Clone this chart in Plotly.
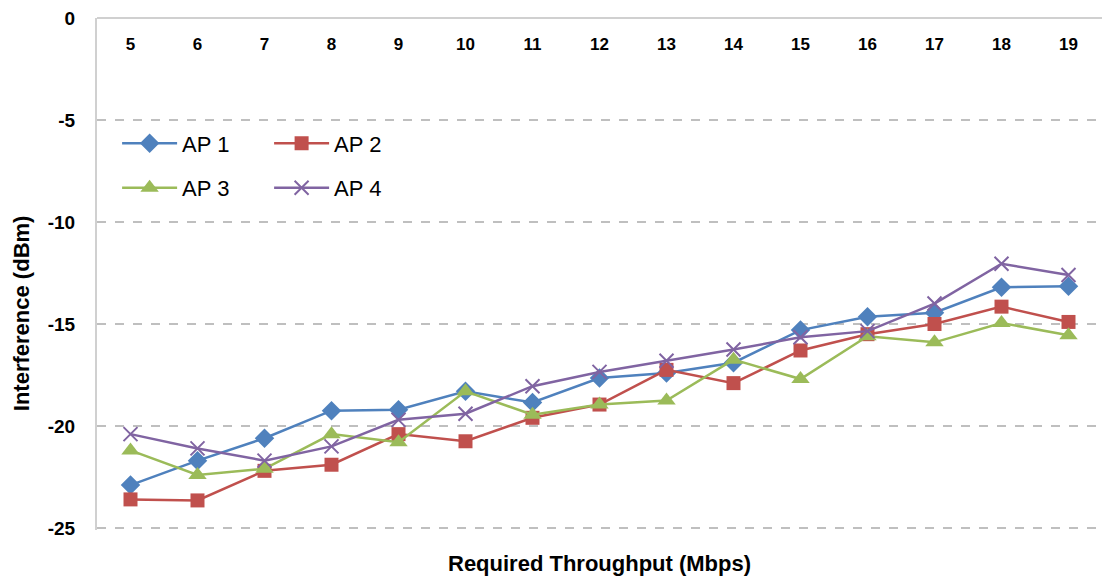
import plotly.graph_objects as go

categories = ["5", "6", "7", "8", "9", "10", "11", "12", "13", "14", "15", "16", "17", "18", "19"]
ap1 = [-22.9, -21.7, -20.6, -19.25, -19.2, -18.3, -18.85, -17.65, -17.4, -16.9, -15.3, -14.65, -14.45, -13.2, -13.15]
ap2 = [-23.6, -23.65, -22.2, -21.9, -20.4, -20.75, -19.6, -18.95, -17.25, -17.9, -16.3, -15.5, -15.0, -14.15, -14.9]
ap3 = [-21.2, -22.4, -22.1, -20.4, -20.8, -18.3, -19.45, -18.95, -18.75, -16.75, -17.7, -15.6, -15.9, -14.95, -15.55]
ap4 = [-20.4, -21.1, -21.7, -21.0, -19.7, -19.4, -18.05, -17.35, -16.8, -16.25, -15.65, -15.35, -14.0, -12.05, -12.6]
y_ticks = [-25, -20, -15, -10, -5, 0]

FONT = "Liberation Sans, Arial, sans-serif"

series = [
    ("AP 1", ap1, "#4F81BD", "diamond", 15, "legend"),
    ("AP 2", ap2, "#C0504D", "square", 14, "legend"),
    ("AP 3", ap3, "#9BBB59", "triangle-up", 16, "legend2"),
    ("AP 4", ap4, "#8064A2", "x-thin", 14, "legend2"),
]

fig = go.Figure()
for name, vals, color, sym, size, leg in series:
    marker = dict(symbol=sym, size=size, color=color)
    if sym == "x-thin":
        marker["line"] = dict(color=color, width=2)
    fig.add_trace(go.Scatter(
        x=categories, y=vals, name=name, mode="lines+markers",
        line=dict(color=color, width=2.5), marker=marker, legend=leg,
    ))

fig.update_layout(
    width=1120, height=578,
    margin=dict(l=97, r=18, t=18, b=48),
    paper_bgcolor="white", plot_bgcolor="white",
    font=dict(family=FONT, color="black"),
    legend=dict(orientation="h", x=0.02, y=0.755, xanchor="left", yanchor="middle",
                entrywidth=82, itemwidth=55, font=dict(size=22), bgcolor="rgba(0,0,0,0)"),
    legend2=dict(orientation="h", x=0.02, y=0.668, xanchor="left", yanchor="middle",
                 entrywidth=82, itemwidth=55, font=dict(size=22), bgcolor="rgba(0,0,0,0)"),
)
fig.update_xaxes(
    type="category", side="bottom", anchor="free", position=0.98,
    showline=False, showgrid=False, ticks="", ticklabelstandoff=4,
    tickfont=dict(size=17, family=FONT, weight="bold"),
    range=[-0.5, 14.5], automargin=False,
)
fig.update_yaxes(
    range=[-25.1, 0], tickvals=y_ticks, ticktext=[str(v) for v in y_ticks],
    showline=True, linecolor="#D0D0D0", linewidth=2,
    zeroline=True, zerolinecolor="#D0D0D0", zerolinewidth=2,
    showgrid=True, gridcolor="#BFBFBF", griddash="dash", gridwidth=1.5,
    tickfont=dict(size=19, weight="bold"), ticks="", ticklabelstandoff=16,
    automargin=False,
)
fig.add_annotation(
    text="Required Throughput (Mbps)", xref="paper", yref="paper",
    x=0.5, y=-0.065, xanchor="center", yanchor="middle", showarrow=False,
    font=dict(size=22, weight="bold"),
)
fig.add_annotation(
    text="Interference (dBm)", xref="paper", yref="paper", textangle=-90,
    x=-0.0756, y=0.4235, xanchor="center", yanchor="middle", showarrow=False,
    font=dict(size=22, weight="bold"),
)
fig.write_html("out.html")
